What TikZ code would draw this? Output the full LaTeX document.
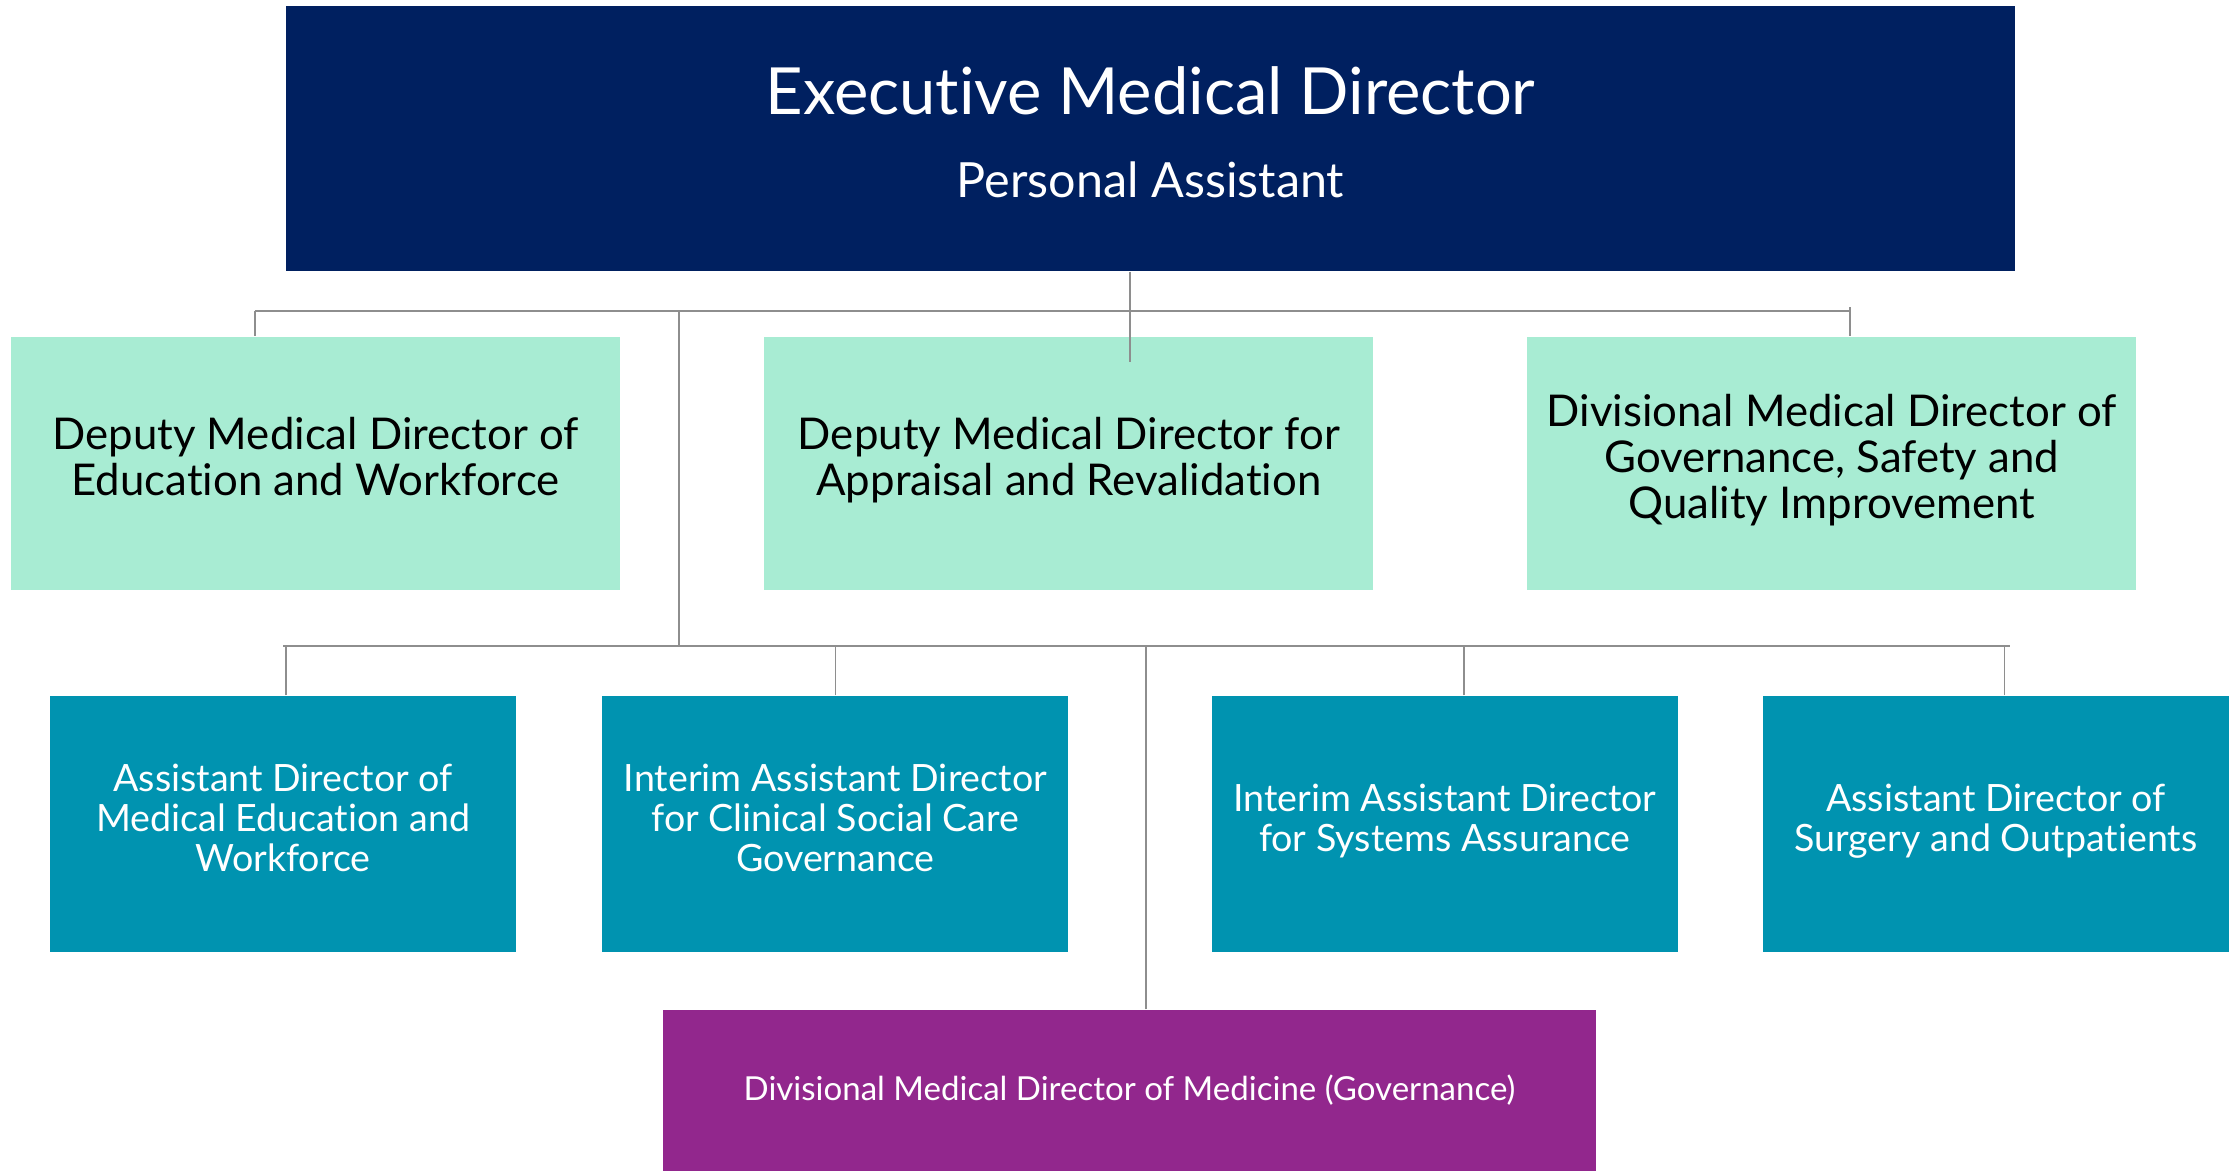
\documentclass[tikz,border=0pt]{standalone}
\usepackage{fontspec}
\setmainfont{Lato}[Ligatures=NoCommon]
\usepackage{tikz}
\usetikzlibrary{positioning}
\usepackage{xcolor}
\definecolor{execNavy}{RGB}{0,32,96}
\definecolor{deputyGreen}{RGB}{168,236,211}
\definecolor{assistantTeal}{RGB}{0,147,176}
\definecolor{medicinePurple}{RGB}{146,39,141}
\definecolor{linkGrey}{RGB}{142,142,142}
\tikzset{
	execbox/.style={fill=execNavy, text=white, align=center, inner sep=0pt,
		minimum width=17.29cm, minimum height=2.65cm,
		font=\fontsize{18.5}{23.6}\selectfont,
		execute at end node={\rule[-1.3mm]{0pt}{1.3mm}}},
	deputy/.style={fill=deputyGreen, text=black, align=center, inner sep=0pt,
		minimum width=6.09cm, minimum height=2.53cm,
		font=\fontsize{12.45}{13.1}\selectfont,
		execute at begin node=\strut, execute at end node=\strut},
	assistant/.style={fill=assistantTeal, text=white, align=center, inner sep=0pt,
		minimum width=4.66cm, minimum height=2.56cm,
		font=\fontsize{10.7}{11.4}\selectfont,
		execute at begin node=\strut, execute at end node=\strut},
	medicine/.style={fill=medicinePurple, text=white, align=center, inner sep=0pt,
		minimum width=9.33cm, minimum height=1.61cm,
		font=\fontsize{9.4}{11}\selectfont},
	link/.style={draw=linkGrey, line width=0.5pt}
}
\begin{document}
\begin{tikzpicture}
	\useasboundingbox (0,0) rectangle (22.34,-11.71);
	\node[execbox] (exec) at (11.505,-1.385) {Executive Medical Director\\
		\fontsize{13.8}{23.6}\selectfont Personal Assistant};
	
	\node[deputy] (eduDeputy) at (3.155,-4.635) {Deputy Medical Director of\\Education and Workforce};
	\node[deputy] (appraisalDeputy) [right=1.43cm of eduDeputy] {Deputy Medical Director for\\Appraisal and Revalidation};
	\node[deputy] (govDivisional) [right=1.525cm of appraisalDeputy] {Divisional Medical Director of\\Governance, Safety and\\Quality Improvement};
	
	\node[assistant] (medEdAssistant) at (2.83,-8.24) {Assistant Director of\\Medical Education and\\Workforce};
	\node[assistant] (socialAssistant) [right=0.85cm of medEdAssistant] {Interim Assistant Director\\for Clinical Social Care\\Governance};
	\node[assistant] (systemsAssistant) [right=1.42cm of socialAssistant] {Interim Assistant Director\\for Systems Assurance};
	\node[assistant] (surgeryAssistant) [right=0.837cm of systemsAssistant] {Assistant Director of\\Surgery and Outpatients};
	
	\node[medicine] (medDivisional) at (11.295,-10.905) {Divisional Medical Director of Medicine (Governance)};
	
	% connectors
	\coordinate (topBusL) at (2.55,-3.11);
	\coordinate (topBusR) at (18.50,-3.11);
	\coordinate (spine) at (6.79,-3.11);
	\coordinate (midBusL) at (2.83,-6.46);
	\coordinate (midBusR) at (20.10,-6.46);
	\draw[link] ([xshift=-0.205cm]exec.south) -- ++(0,-0.90);
	\draw[link] (topBusL) -- (topBusR);
	\draw[link] (topBusL) -- (topBusL |- eduDeputy.north);
	\draw[link] ([yshift=0.04cm]topBusR) -- (topBusR |- govDivisional.north);
	\draw[link] (spine) -- (spine |- midBusL);
	\draw[link] (midBusL) -- (midBusR);
	\foreach \n/\dx in {medEdAssistant/0.03, socialAssistant/0, systemsAssistant/0.19, surgeryAssistant/0.085}
	\draw[link] ([xshift=\dx cm]\n.north) -- ++(0,0.50);
	\draw[link] ([xshift=0.165cm]medDivisional.north) -- ++(0,3.64);
\end{tikzpicture}
\end{document}
